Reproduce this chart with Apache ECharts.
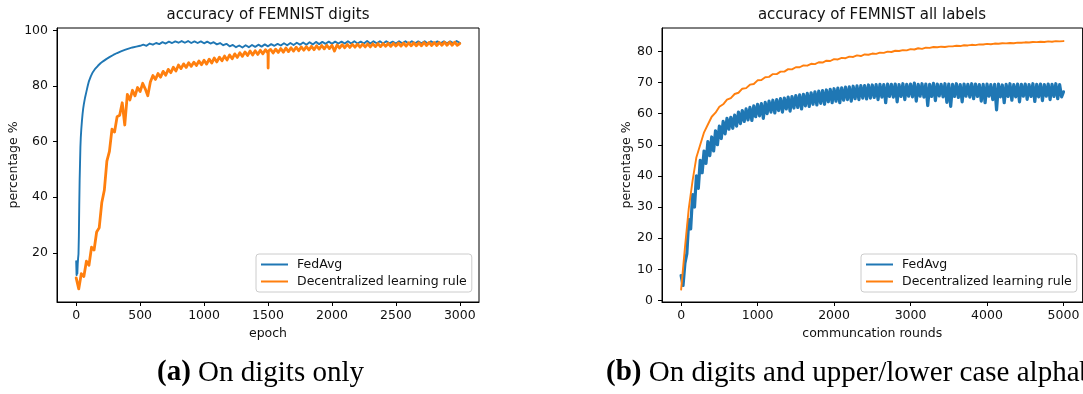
<!DOCTYPE html>
<html><head><meta charset="utf-8">
<script src="https://cdn.jsdelivr.net/npm/echarts@6/dist/echarts.min.js"></script>
<style>html,body{margin:0;padding:0;background:#fff}#c{width:1083px;height:394px}</style>
</head><body><div id="c"></div>
<script>
// ---------- text ----------
const titleDigits = 'accuracy of FEMNIST digits';
const titleAll = 'accuracy of FEMNIST all labels';
const yNameDigits = 'percentage %';
const yNameAll = 'percentage %';
const xNameDigits = 'epoch';
const xNameAll = 'communcation rounds';
const seriesNames = ['FedAvg', 'Decentralized learning rule'];
const captionA = ['(a)', ' On digits only'];
const captionB = ['(b)', ' On digits and upper/lower case alphabets'];

// ---------- tick labels ----------
const xTicksDigits = [0, 500, 1000, 1500, 2000, 2500, 3000];
const yTicksDigits = [20, 40, 60, 80, 100];
const xTicksAll = [0, 1000, 2000, 3000, 4000, 5000];
const yTicksAll = [0, 10, 20, 30, 40, 50, 60, 70, 80];

// ---------- data: left chart (FEMNIST digits) ----------
const fedAvgDigitsEarlyEpochs = [0, 3, 6, 9, 12, 15, 18, 21, 24, 27, 30, 33, 36, 40, 45, 50, 55, 60, 70, 80, 90, 100, 115, 130, 150, 170, 190, 210, 235, 260, 290, 320, 350, 380, 410, 440, 470, 500];
const fedAvgDigitsEarly = [17, 12, 13.5, 12.5, 16, 18, 19.5, 26, 37, 46, 52, 58, 61.5, 64.5, 67.5, 70, 72, 73.5, 76, 78, 80, 81.8, 83.6, 85, 86.3, 87.3, 88.2, 88.9, 89.7, 90.4, 91.2, 91.9, 92.5, 93, 93.5, 93.9, 94.2, 94.5];
const fedAvgDigitsLateStart = 525, fedAvgDigitsLateStep = 25;
const fedAvgDigitsLate = [
  94.9, 94.5, 95.3, 94.9, 95.5, 95.1, 95.8, 95.3, 96.0, 95.5,
  96.1, 95.6, 96.2, 95.6, 96.2, 95.5, 96.1, 95.5, 96.1, 95.4,
  96.0, 95.3, 95.8, 95.0, 95.5, 94.7, 95.2, 94.3, 94.8, 94.0,
  94.6, 93.9, 94.7, 94.0, 94.8, 94.1, 94.9, 94.2, 95.0, 94.3,
  95.1, 94.5, 95.2, 94.6, 95.4, 94.7, 95.5, 94.8, 95.6, 94.9,
  95.7, 94.9, 95.8, 95.0, 95.9, 95.1, 95.9, 95.2, 96.0, 95.2,
  96.0, 95.3, 96.0, 95.3, 96.1, 95.3, 96.1, 95.3, 96.0, 95.3,
  96.2, 95.3, 96.1, 95.4, 96.1, 95.3, 96.1, 95.4, 96.0, 95.3,
  96.1, 95.4, 96.1, 95.3, 96.1, 95.4, 96.1, 95.4, 96.1, 95.3,
  96.1, 95.4, 96.1, 95.4, 96.1, 95.4, 96.1, 95.4, 96.2, 95.6
];
const decDigitsStep = 20;
const decDigits = [
  11, 7, 12.5, 11.5, 17, 15.5, 22, 21, 27.5, 29,
  38, 42.5, 53, 56.5, 64.5, 63.5, 69, 69.5, 74, 66,
  77, 75, 78.5, 76.5, 79.5, 78, 81, 79, 76.5, 81.5,
  83.8, 82.4, 84.5, 83.2, 85.3, 83.9, 86, 84.8, 86.8, 85.4,
  87.6, 86.3, 88, 86.7, 88.4, 87.1, 88.6, 87.4, 89, 87.7,
  89.3, 87.9, 89.7, 88.3, 90.1, 88.7, 90.4, 89.1, 90.8, 89.4,
  91.2, 89.8, 91.6, 90.3, 92, 90.7, 92.3, 91, 92.6, 91.2,
  92.7, 91.4, 92.9, 91.6, 93.1, 91.8, 93.2, 91.9, 93.3, 92.1,
  93.5, 92.2, 93.7, 92.4, 93.8, 92.6, 94, 92.7, 94.1, 92.9,
  94.2, 93, 94.3, 93.1, 94.5, 93.3, 94.6, 93.4, 94.7, 93.5,
  94.7, 92.6, 94.8, 93.7, 94.9, 93.8, 95, 93.9, 95, 94,
  95.1, 94, 95.1, 94.1, 95.2, 94.1, 95.2, 94.2, 95.3, 94.2,
  95.3, 94.3, 95.4, 94.3, 95.4, 94.4, 95.5, 94.4, 95.5, 94.4,
  95.6, 94.5, 95.6, 94.5, 95.6, 94.5, 95.7, 94.6, 95.7, 94.6,
  95.7, 94.6, 95.7, 94.7, 95.8, 94.7, 95.8, 94.7, 95.8, 94.7,
  95.3
];
const decDigitsSpikeEpochs = [1501, 1503];
const decDigitsSpike = [86.5, 92.6];

// ---------- data: right chart (FEMNIST all labels) ----------
const fedAvgAllStep = 25;
const fedAvgAll = [
  8, 4.8, 12, 15, 26, 23, 34, 30, 40, 36,
  45, 41, 48, 44, 51, 46.5, 52.5, 48, 54.5, 50,
  56, 52, 57.5, 53.5, 58.5, 55, 58.8, 55.3, 59.5, 56,
  60.5, 56.8, 61, 57.5, 61.5, 58, 62, 57.8, 62.5, 59,
  63, 59.3, 63.2, 58.5, 63.6, 60, 64, 60.5, 64.3, 60.2,
  64.5, 61, 64.8, 60.5, 65, 61.5, 65.3, 60.8, 65.5, 61.8,
  65.8, 62, 66, 61.5, 66.2, 62.5, 66.5, 62.3, 66.7, 63,
  67, 62.8, 67.2, 63.3, 67.4, 63, 67.6, 63.8, 67.8, 63.5,
  68, 64, 68.2, 63.5, 68.3, 64.3, 68.5, 64.5, 68.6, 64,
  68.8, 64.8, 68.9, 64.5, 69, 65, 69, 64.7, 69.2, 65,
  69.2, 65.2, 69.3, 64.5, 69.4, 65.3, 69.3, 63.5, 69.5, 65.5,
  69.4, 65.3, 69.5, 63.8, 69.3, 65.5, 69.6, 64.5, 69.4, 65.6,
  69.5, 65.4, 69.8, 64, 69.4, 65.6, 69.6, 65.3, 69.5, 62.6,
  69.4, 65.5, 69.7, 64.2, 69.5, 65.7, 69.4, 65.4, 69.6, 63.6,
  69.5, 62.3, 69.4, 65.5, 69.6, 65.2, 69.3, 63.8, 69.5, 65.6,
  69.4, 65.3, 69.6, 64.8, 69.5, 65.5, 69.3, 64, 69.4, 63.5,
  69.5, 65.6, 69.3, 64.5, 69.4, 61.2, 69.5, 65.4, 69.2, 63.5,
  69.4, 65.5, 69.6, 64.3, 69.3, 65.4, 69.5, 63.8, 69.4, 65.6,
  69.5, 64.6, 69.3, 65.5, 69.6, 63.9, 69.4, 65.4, 69.5, 64.2,
  69.3, 65.6, 69.5, 64.5, 69.4, 65.5, 69.6, 64.8, 69.3, 65.4,
  67
];
const decAllStep = 50;
const decAll = [
  3.5, 17, 29.5, 38.5, 46, 50, 54, 56.5, 59, 60.3,
  62.2, 63, 64.5, 65, 66.3, 66.7, 68, 68.2, 69.3, 69.5,
  70.7, 70.8, 71.7, 71.8, 72.7, 72.7, 73.5, 73.5, 74.3, 74.2,
  74.9, 74.9, 75.5, 75.4, 76, 75.9, 76.5, 76.4, 77, 76.9,
  77.5, 77.4, 77.9, 77.8, 78.3, 78.2, 78.7, 78.5, 79, 78.9,
  79.3, 79.2, 79.6, 79.5, 79.9, 79.8, 80.2, 80.1, 80.4, 80.3,
  80.7, 80.6, 81, 80.8, 81.2, 81.1, 81.4, 81.3, 81.5, 81.4,
  81.6, 81.6, 81.8, 81.7, 81.95, 81.9, 82.1, 82.0, 82.25, 82.2,
  82.4, 82.3, 82.5, 82.45, 82.6, 82.55, 82.7, 82.6, 82.8, 82.75,
  82.9, 82.85, 83.0, 82.95, 83.1, 83.0, 83.2, 83.1, 83.3, 83.2,
  83.3
];

// ---------- build pairs ----------
const fedAvgDigitsData = fedAvgDigitsEarlyEpochs.map((e, i) => [e, fedAvgDigitsEarly[i]])
  .concat(fedAvgDigitsLate.map((v, i) => [fedAvgDigitsLateStart + i * fedAvgDigitsLateStep, v]));
const decDigitsData = decDigits.map((v, i) => [i * decDigitsStep, v])
  .concat(decDigitsSpikeEpochs.map((e, i) => [e, decDigitsSpike[i]]))
  .sort((a, b) => a[0] - b[0]);
const fedAvgAllData = fedAvgAll.map((v, i) => [i * fedAvgAllStep, v]);
const decAllData = decAll.map((v, i) => [i * decAllStep, v]);

const BLUE = '#1f77b4', ORANGE = '#ff7f0e', INK = '#111';
const FONT = 'DejaVu Sans';
const FS = 12.5;
const plain = v => String(v);

function xAxisCfg(idx, min, max, ticks, name) {
  return {
    type: 'value', gridIndex: idx, min: min, max: max,
    name: name, nameLocation: 'middle', nameGap: 24,
    nameTextStyle: {fontFamily: FONT, fontSize: FS, color: INK},
    axisLine: {show: true, onZero: false, lineStyle: {color: '#000', width: 1}},
    axisTick: {show: true, inside: false, length: 4, lineStyle: {color: '#000', width: 1}, customValues: ticks},
    axisLabel: {show: true, margin: 7, fontFamily: FONT, fontSize: FS, color: INK, customValues: ticks, formatter: plain},
    splitLine: {show: false}
  };
}
function yAxisCfg(idx, min, max, ticks, name, gap) {
  return {
    type: 'value', gridIndex: idx, min: min, max: max,
    name: name, nameLocation: 'middle', nameGap: gap,
    nameTextStyle: {fontFamily: FONT, fontSize: FS, color: INK},
    axisLine: {show: true, onZero: false, lineStyle: {color: '#000', width: 1}},
    axisTick: {show: true, inside: false, length: 4, lineStyle: {color: '#000', width: 1}, customValues: ticks},
    axisLabel: {show: true, margin: 9, fontFamily: FONT, fontSize: FS, color: INK, customValues: ticks, formatter: plain},
    splitLine: {show: false}
  };
}
function legendCfg(left) {
  return {
    orient: 'vertical', left: left, top: 254,
    data: seriesNames, icon: 'rect', itemWidth: 27, itemHeight: 2, itemGap: 4,
    padding: [4, 5, 4, 5], borderColor: '#cccccc', borderWidth: 1, borderRadius: 3,
    backgroundColor: 'rgba(255,255,255,0.8)', selectedMode: false,
    textStyle: {fontFamily: FONT, fontSize: FS, color: INK, padding: [0, 0, 0, 4]}
  };
}
function lineSeries(name, color, xi, data, w) {
  return {
    type: 'line', name: name, xAxisIndex: xi, yAxisIndex: xi, data: data,
    showSymbol: false, symbol: 'none', color: color,
    lineStyle: {color: color, width: w, join: 'round', cap: 'round'}, animation: false, silent: true
  };
}

const chart = echarts.init(document.getElementById('c'), null, {renderer: 'canvas'});
chart.setOption({
  animation: false,
  backgroundColor: '#fff',
  title: [
    {text: titleDigits, left: 268, top: 8, textAlign: 'center', padding: 0,
     textStyle: {fontFamily: FONT, fontSize: 15, fontWeight: 'normal', color: INK}},
    {text: titleAll, left: 872, top: 8, textAlign: 'center', padding: 0,
     textStyle: {fontFamily: FONT, fontSize: 15, fontWeight: 'normal', color: INK}}
  ],
  grid: [
    {left: 57, top: 28, width: 422, height: 274, show: true, borderColor: '#000', borderWidth: 1, backgroundColor: 'transparent'},
    {left: 662, top: 28, width: 420.6, height: 274, show: true, borderColor: '#000', borderWidth: 1, backgroundColor: 'transparent'}
  ],
  xAxis: [
    xAxisCfg(0, -150, 3150, xTicksDigits, xNameDigits),
    xAxisCfg(1, -250, 5250, xTicksAll, xNameAll)
  ],
  yAxis: [
    yAxisCfg(0, 2.3, 100.9, yTicksDigits, yNameDigits, 36),
    yAxisCfg(1, -0.5, 87.5, yTicksAll, yNameAll, 29)
  ],
  legend: [legendCfg(256), legendCfg(861)],
  series: [
    lineSeries(seriesNames[0], BLUE, 0, fedAvgDigitsData, 1.9),
    lineSeries(seriesNames[1], ORANGE, 0, decDigitsData, 2.8),
    lineSeries(seriesNames[0], BLUE, 1, fedAvgAllData, 3.2),
    lineSeries(seriesNames[1], ORANGE, 1, decAllData, 1.9)
  ],
  graphic: [
    {type: 'text', x: 157, y: 373, silent: true,
     style: {text: '{b|' + captionA[0] + '}' + captionA[1], fontFamily: 'Liberation Serif', fontSize: 29, fill: '#000',
       textVerticalAlign: 'middle', verticalAlign: 'middle',
       rich: {b: {fontFamily: 'Liberation Serif', fontSize: 29, fontWeight: 'bold', fill: '#000'}}}},
    {type: 'text', x: 606, y: 373, silent: true,
     style: {text: '{b|' + captionB[0] + '}' + captionB[1], fontFamily: 'Liberation Serif', fontSize: 29, fill: '#000',
       textVerticalAlign: 'middle', verticalAlign: 'middle',
       rich: {b: {fontFamily: 'Liberation Serif', fontSize: 29, fontWeight: 'bold', fill: '#000'}}}}
  ]
});
</script>
</body></html>
